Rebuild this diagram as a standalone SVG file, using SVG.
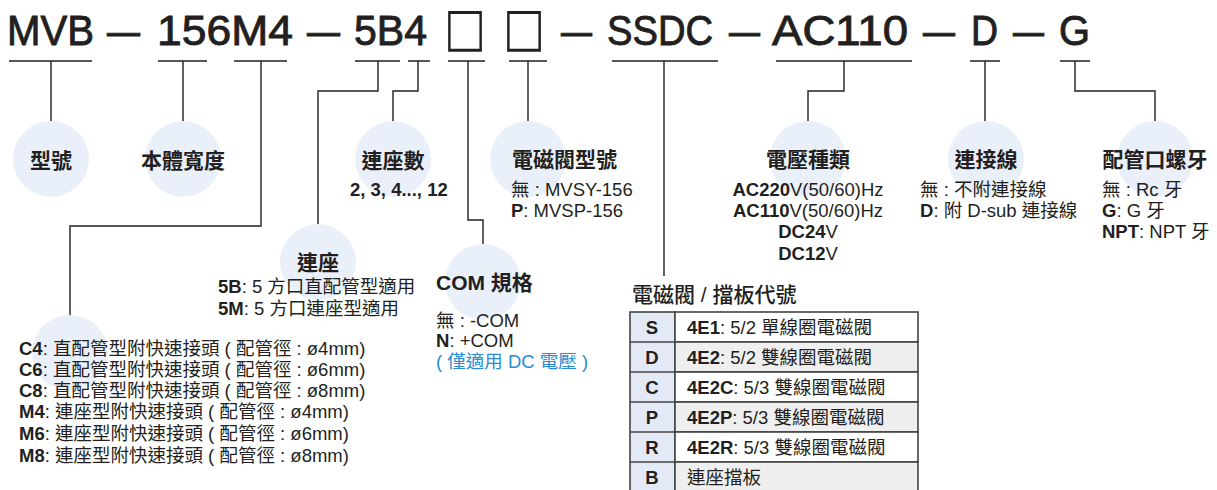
<svg xmlns="http://www.w3.org/2000/svg" width="1217" height="490" viewBox="0 0 1217 490">
<style>
text{font-family:'Liberation Sans','Noto Sans CJK TC',sans-serif;fill:#231f20;}
.t{font-size:42px;stroke:#231f20;stroke-width:0.9;}
.bx{font-family:'DejaVu Sans',sans-serif;font-size:53px;}
.h{font-size:21px;font-weight:bold;}
.d{font-size:18.5px;}
.b{font-weight:bold;}
.blue{fill:#2a8bd2;}
.c{fill:#eaf0f9;}
.ln{fill:none;stroke:#231f20;stroke-width:1.4;}
.cell{stroke:#444;stroke-width:1.6;}
.k{fill:#e3eaf5;}
.g{fill:#efefef;}
.w{fill:#ffffff;}
</style>
<rect width="1217" height="490" fill="#ffffff"/>
<g id="title">
<text class="t" x="7" y="45" textLength="87" lengthAdjust="spacingAndGlyphs">MVB</text>
<text class="t" x="107" y="45" textLength="33" lengthAdjust="spacingAndGlyphs">—</text>
<text class="t" x="157" y="45" textLength="136" lengthAdjust="spacingAndGlyphs">156M4</text>
<text class="t" x="307" y="45" textLength="33" lengthAdjust="spacingAndGlyphs">—</text>
<text class="t" x="354" y="45" textLength="73" lengthAdjust="spacingAndGlyphs">5B4</text>
<text class="bx" x="444" y="45" textLength="42" lengthAdjust="spacingAndGlyphs">□</text>
<text class="bx" x="503" y="45" textLength="42" lengthAdjust="spacingAndGlyphs">□</text>
<text class="t" x="561" y="45" textLength="31" lengthAdjust="spacingAndGlyphs">—</text>
<text class="t" x="607" y="45" textLength="106" lengthAdjust="spacingAndGlyphs">SSDC</text>
<text class="t" x="729" y="45" textLength="31" lengthAdjust="spacingAndGlyphs">—</text>
<text class="t" x="772" y="45" textLength="136" lengthAdjust="spacingAndGlyphs">AC110</text>
<text class="t" x="923" y="45" textLength="32" lengthAdjust="spacingAndGlyphs">—</text>
<text class="t" x="971" y="45" textLength="27" lengthAdjust="spacingAndGlyphs">D</text>
<text class="t" x="1013" y="45" textLength="31" lengthAdjust="spacingAndGlyphs">—</text>
<text class="t" x="1059" y="45" textLength="31" lengthAdjust="spacingAndGlyphs">G</text>
</g>
<g id="connectors">
<path class="ln" d="M9 61H92M51 61V121"/>
<path class="ln" d="M158 61H207M183 61V121"/>
<path class="ln" d="M234 61H287M261 61V226H70V315"/>
<path class="ln" d="M355 61H400M378 61V91H318V224"/>
<path class="ln" d="M408 61H430M418 61V91H393V121"/>
<path class="ln" d="M448 61H485M468 61V220H483V244"/>
<path class="ln" d="M509 61H547M528 61V121"/>
<path class="ln" d="M612 61H718M664 61V276"/>
<path class="ln" d="M776 61H912M844 61V91H808V121"/>
<path class="ln" d="M970 61H1000M985 61V121"/>
<path class="ln" d="M1060 61H1090M1075 61V91H1155V121"/>
</g>
<g id="model">
<circle class="c" cx="51" cy="159" r="38"/>
<text class="h" x="51" y="168" text-anchor="middle">型號</text>
</g>
<g id="width">
<circle class="c" cx="183" cy="159" r="38"/>
<text class="h" x="183" y="168" text-anchor="middle">本體寬度</text>
</g>
<g id="stations">
<circle class="c" cx="393" cy="159" r="38"/>
<text class="h" x="393" y="168" text-anchor="middle">連座數</text>
<text class="d b" x="350" y="196">2, 3, 4..., 12</text>
</g>
<g id="base">
<circle class="c" cx="318" cy="262" r="38"/>
<text class="h" x="318" y="270" text-anchor="middle">連座</text>
<text class="d" x="218" y="293"><tspan class="b">5B</tspan>: 5 方口直配管型適用</text>
<text class="d" x="218" y="315"><tspan class="b">5M</tspan>: 5 方口連座型適用</text>
</g>
<g id="fitting">
<circle class="c" cx="70" cy="353" r="38"/>
<text class="d" x="19" y="355"><tspan class="b">C4</tspan>: 直配管型附快速接頭 ( 配管徑 : ø4mm)</text>
<text class="d" x="19" y="376"><tspan class="b">C6</tspan>: 直配管型附快速接頭 ( 配管徑 : ø6mm)</text>
<text class="d" x="19" y="397"><tspan class="b">C8</tspan>: 直配管型附快速接頭 ( 配管徑 : ø8mm)</text>
<text class="d" x="19" y="418"><tspan class="b">M4</tspan>: 連座型附快速接頭 ( 配管徑 : ø4mm)</text>
<text class="d" x="19" y="440"><tspan class="b">M6</tspan>: 連座型附快速接頭 ( 配管徑 : ø6mm)</text>
<text class="d" x="19" y="462"><tspan class="b">M8</tspan>: 連座型附快速接頭 ( 配管徑 : ø8mm)</text>
</g>
<g id="valve-model">
<circle class="c" cx="528" cy="159" r="38"/>
<text class="h" x="512" y="167">電磁閥型號</text>
<text class="d" x="511" y="196">無 : MVSY-156</text>
<text class="d" x="511" y="217"><tspan class="b">P</tspan>: MVSP-156</text>
</g>
<g id="com">
<circle class="c" cx="483" cy="282" r="38"/>
<text class="h" x="436" y="290">COM 規格</text>
<text class="d" x="436" y="327">無 : -COM</text>
<text class="d" x="436" y="347"><tspan class="b">N</tspan>: +COM</text>
<text class="d blue" x="436" y="368">( 僅適用 DC 電壓 )</text>
</g>
<g id="valve-table">
<text x="632" y="302" style="font-size:21px;font-weight:500">電磁閥 / 擋板代號</text>
<rect class="k cell" x="630" y="312" width="45" height="180"/>
<rect class="w cell" x="675" y="312" width="243" height="30"/>
<rect class="g cell" x="675" y="342" width="243" height="30"/>
<rect class="w cell" x="675" y="372" width="243" height="30"/>
<rect class="g cell" x="675" y="402" width="243" height="30"/>
<rect class="w cell" x="675" y="432" width="243" height="30"/>
<rect class="g cell" x="675" y="462" width="243" height="30"/>
<path class="cell" d="M630 342H675M630 372H675M630 402H675M630 432H675M630 462H675" fill="none"/>
<text class="d b" x="652" y="334" text-anchor="middle">S</text>
<text class="d b" x="652" y="364" text-anchor="middle">D</text>
<text class="d b" x="652" y="394" text-anchor="middle">C</text>
<text class="d b" x="652" y="424" text-anchor="middle">P</text>
<text class="d b" x="652" y="454" text-anchor="middle">R</text>
<text class="d b" x="652" y="484" text-anchor="middle">B</text>
<text class="d" x="687" y="334"><tspan class="b">4E1</tspan>: 5/2 單線圈電磁閥</text>
<text class="d" x="687" y="364"><tspan class="b">4E2</tspan>: 5/2 雙線圈電磁閥</text>
<text class="d" x="687" y="394"><tspan class="b">4E2C</tspan>: 5/3 雙線圈電磁閥</text>
<text class="d" x="687" y="424"><tspan class="b">4E2P</tspan>: 5/3 雙線圈電磁閥</text>
<text class="d" x="687" y="454"><tspan class="b">4E2R</tspan>: 5/3 雙線圈電磁閥</text>
<text class="d" x="687" y="484">連座擋板</text>
</g>
<g id="voltage">
<circle class="c" cx="808" cy="159" r="38"/>
<text class="h" x="808" y="167" text-anchor="middle">電壓種類</text>
<text class="d" x="808" y="196" text-anchor="middle"><tspan class="b">AC220</tspan>V(50/60)Hz</text>
<text class="d" x="808" y="217" text-anchor="middle"><tspan class="b">AC110</tspan>V(50/60)Hz</text>
<text class="d" x="808" y="238" text-anchor="middle"><tspan class="b">DC24</tspan>V</text>
<text class="d" x="808" y="260" text-anchor="middle"><tspan class="b">DC12</tspan>V</text>
</g>
<g id="cable">
<circle class="c" cx="986" cy="159" r="38"/>
<text class="h" x="986" y="167" text-anchor="middle">連接線</text>
<text class="d" x="920" y="196">無 : 不附連接線</text>
<text class="d" x="920" y="217"><tspan class="b">D</tspan>: 附 D-sub 連接線</text>
</g>
<g id="thread">
<circle class="c" cx="1155" cy="159" r="38"/>
<text class="h" x="1155" y="167" text-anchor="middle">配管口螺牙</text>
<text class="d" x="1102" y="196">無 : Rc 牙</text>
<text class="d" x="1102" y="217"><tspan class="b">G</tspan>: G 牙</text>
<text class="d" x="1102" y="238"><tspan class="b">NPT</tspan>: NPT 牙</text>
</g>
</svg>
